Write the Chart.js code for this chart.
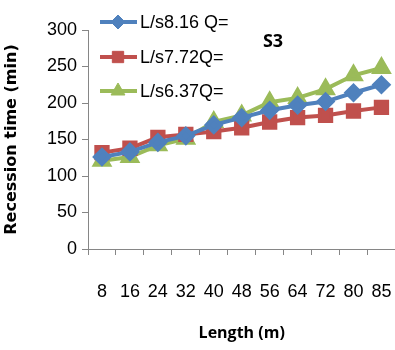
<!DOCTYPE html>
<html>
<head>
<meta charset="utf-8">
<script src="https://cdn.jsdelivr.net/npm/chart.js@4/dist/chart.umd.min.js"></script>
<style>
  html, body { margin: 0; padding: 0; background: #fff; overflow: hidden; }
  #wrap { width: 418px; height: 350px; }
</style>
</head>
<body>
<div id="wrap"><canvas id="c"></canvas></div>
<script>
// lengths along the furrow (m)
const lengths = ['8', '16', '24', '32', '40', '48', '56', '64', '72', '80', '85'];

// recession time (min) per inflow
const q816 = [126, 133, 146, 155, 170, 180, 190, 197, 202, 214, 225];
const q772 = [132, 138, 153, 157, 161, 166, 174, 180, 183, 189, 194];
const q637 = [121, 126, 142, 151, 174, 183, 201, 207, 219, 238, 248];

const seriesLabels = ['L/s8.16 Q=', 'L/s7.72Q=', 'L/s6.37Q='];
const yTicks = [0, 50, 100, 150, 200, 250, 300];

const tickFont = { family: "'Liberation Sans Narrow', 'Liberation Sans', Arial", size: 18 };
const axisGrey = '#868686';

// legend inside the plot, top-left
const insideLegend = {
  id: 'insideLegend',
  afterDraw(chart) {
    const ctx = chart.ctx;
    const rows = [22, 57, 91];
    ctx.save();
    chart.data.datasets.forEach((ds, i) => {
      const y = rows[i];
      ctx.strokeStyle = ds.borderColor;
      ctx.fillStyle = ds.borderColor;
      ctx.lineWidth = 4;
      ctx.beginPath();
      ctx.moveTo(100, y);
      ctx.lineTo(137, y);
      ctx.stroke();
      ctx.lineWidth = 1;
      Chart.helpers.drawPoint(ctx, {
        pointStyle: ds.pointStyle,
        radius: ds.pointRadius,
        borderWidth: 1
      }, 118, y);
      ctx.fillStyle = '#000';
      ctx.font = "18px 'Liberation Sans Narrow', 'Liberation Sans', Arial";
      ctx.textBaseline = 'middle';
      ctx.textAlign = 'left';
      ctx.fillText(ds.label, 140, y + 1);
    });
    ctx.font = "bold 18px 'Open Sans', Lato, sans-serif";
    ctx.textAlign = 'center';
    ctx.fillText('S3', 273, 42);
    ctx.restore();
  }
};

function makeSet(label, data, color, style, r) {
  return {
    label: label,
    data: data,
    borderColor: color,
    backgroundColor: color,
    pointBackgroundColor: color,
    pointBorderColor: color,
    pointStyle: style,
    pointRadius: r,
    pointHoverRadius: r,
    borderWidth: 4,
    tension: 0
  };
}

new Chart(document.getElementById('c'), {
  type: 'line',
  data: {
    labels: lengths,
    datasets: [
      makeSet(seriesLabels[0], q816, '#4F81BD', 'rectRot', 7),
      makeSet(seriesLabels[1], q772, '#C0504D', 'rect', 8),
      makeSet(seriesLabels[2], q637, '#9BBB59', 'triangle', 8)
    ]
  },
  options: {
    responsive: true,
    maintainAspectRatio: false,
    animation: false,
    layout: { padding: { top: 30, right: 0, left: 0, bottom: 0 } },
    plugins: {
      legend: { display: false },
      tooltip: { enabled: false }
    },
    scales: {
      x: {
        offset: true,
        afterFit(scale) { scale.height = 101; },
        grid: {
          offset: true,
          drawOnChartArea: false,
          drawTicks: true,
          tickLength: 6,
          color: axisGrey
        },
        border: { color: axisGrey, width: 1 },
        ticks: { font: tickFont, color: '#000', padding: 26, maxRotation: 0, autoSkip: false },
        title: {
          display: true,
          text: 'Length (m)',
          font: { family: "'Open Sans', Lato, sans-serif", size: 16, weight: 'bold' },
          color: '#000',
          padding: { top: 10, bottom: 7 }
        }
      },
      y: {
        min: 0,
        max: 300,
        afterBuildTicks(scale) {
          scale.ticks = yTicks.map(v => ({ value: v }));
        },
        afterFit(scale) { scale.width = 88; },
        grid: {
          drawOnChartArea: false,
          drawTicks: true,
          tickLength: 6,
          color: axisGrey
        },
        border: { color: axisGrey, width: 1 },
        ticks: { font: tickFont, color: '#000', padding: 5 },
        title: {
          display: true,
          text: 'Recession time (min)',
          font: { family: "'DejaVu Sans', sans-serif", size: 16, weight: 'bold' },
          color: '#000',
          padding: { top: 2, bottom: 0 }
        }
      }
    }
  },
  plugins: [insideLegend]
});
</script>
</body>
</html>
